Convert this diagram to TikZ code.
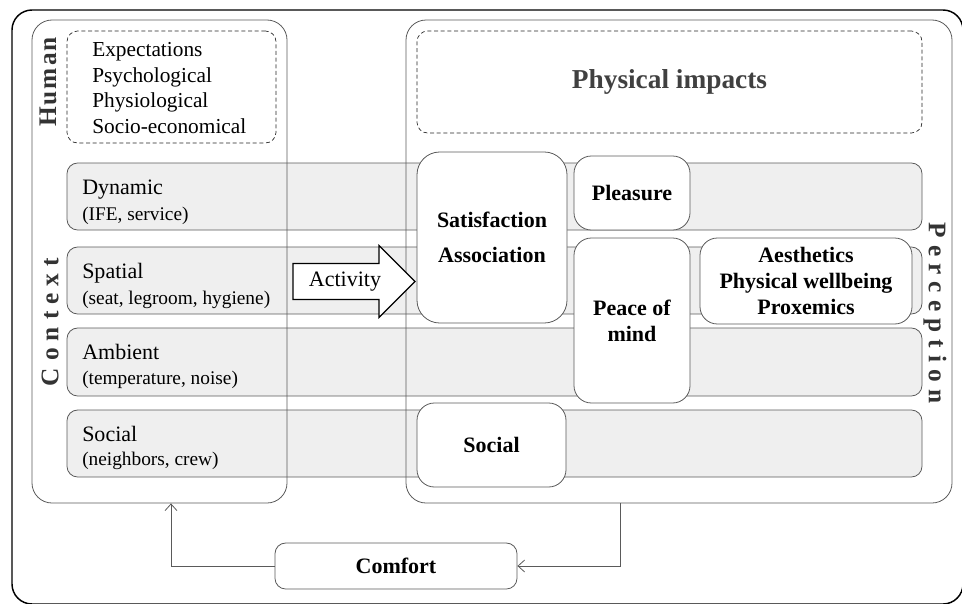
\documentclass[tikz,border=0pt]{standalone}
\usepackage{fontspec}
\setmainfont{Liberation Serif}
\usetikzlibrary{arrows.meta,positioning,fit,shapes.arrows}
\definecolor{Ink}{HTML}{333333}
\definecolor{Edge}{HTML}{5A5A5A}
\definecolor{Band}{HTML}{EFEFEF}
\definecolor{Muted}{HTML}{404040}
\newcommand{\ls}{\kern5.3pt}
\tikzset{zone/.style={draw=Edge,line width=.6pt,rounded corners=15pt,inner sep=0pt},
  dashbox/.style={draw=black!85,dash pattern=on 3pt off 2pt,line width=.5pt,rounded corners=8pt,inner sep=0pt},
  band/.style={draw=Edge,fill=Band,line width=.6pt,rounded corners=8pt,inner sep=0pt},
  card/.style={draw=Edge,fill=white,line width=.6pt,rounded corners=13pt,inner sep=0pt},
  cardtext/.style={inner sep=0pt,align=center,font=\fontsize{16.5pt}{19.5pt}\selectfont\bfseries},
  bandlab/.style={anchor=base west,inner sep=0pt,font=\fontsize{16.5pt}{20pt}\selectfont},
  bandsub/.style={anchor=base west,inner sep=0pt,font=\fontsize{14.5pt}{18pt}\selectfont},
  side/.style={font=\fontsize{19pt}{22pt}\selectfont\bfseries,text=Ink,inner sep=0pt},
  flow/.style={-{Straight Barb[length=5pt,width=9pt]},draw=Edge,line width=.6pt}}

\begin{document}
\begin{tikzpicture}[x=.75pt,y=-.75pt]
\useasboundingbox (0,0) rectangle (962,603);
\node[fit={(12,10)(963,604)},draw,line width=1.1pt,rounded corners=15pt,inner sep=0pt] (frame) {};

% context bands
\node[band,fit={(67,163)(922,230)}] (dynamic) {};
\node[band,fit={(67,247)(922,314)}] (spatial) {};
\node[band,fit={(67,328)(922,396)}] (ambient) {};
\node[band,fit={(67,410)(922,477)}] (socialrow) {};
\node[bandlab] (dynamic-a) at (82,194) {Dynamic};
\node[bandsub] (dynamic-b) at (82,220) {(IFE, service)};
\node[bandlab] (spatial-a) at (82,278) {Spatial};
\node[bandsub] (spatial-b) at (82,304) {(seat, legroom, hygiene)};
\node[bandlab] (ambient-a) at (82,359) {Ambient};
\node[bandsub] (ambient-b) at (82,384) {(temperature, noise)};
\node[bandlab] (socialrow-a) at (82,441) {Social};
\node[bandsub] (socialrow-b) at (82,465) {(neighbors, crew)};

% the two halves
\node[zone,fit={(32,20)(287,503)}] (context) {};
\node[zone,fit={(406,20)(952,503)}] (percep) {};
\node[dashbox,fit={(67,31)(276,143)}] (human) {};
\node[anchor=west,align=left,inner sep=0pt,font=\fontsize{16pt}{19.2pt}\selectfont] (needs) at (92,88)
  {Expectations\\Psychological\\Physiological\\Socio-economical};
\node[dashbox,fit={(417,31)(922,133)}] (impacts) {};
\node[text=Muted,font=\fontsize{20.5pt}{24pt}\selectfont\bfseries] (impacts-t) at (impacts) {Physical impacts};
\node[side,rotate=90] (humanlab) at (48,82) {H\kern1.5pt u\kern1.5pt m\kern1.5pt a\kern1.5pt n};
\node[side,rotate=90] (contextlab) at (50,322) {C\ls o\ls n\ls t\ls e\ls x\ls t};
\node[side,rotate=-90] (perceplab) at (935,313) {P\ls e\ls r\ls c\ls e\ls p\ls t\ls i\ls o\ls n};

\node[draw=black,fill=white,line width=.9pt,single arrow,single arrow head extend=13.5pt,minimum height=91.5pt,
  inner ysep=5.5pt,text height=11.5pt,text depth=3.5pt,font=\fontsize{16.5pt}{20pt}\selectfont] (activity) at (345,281.5) {Activity};

% perception cards
\node[card,fit={(417,152)(567,323)},rounded corners=17pt] (satis) {};
\node[card,fit={(574,156)(690,230)}] (pleasure) {};
\node[card,fit={(574,238)(690,403)}] (peace) {};
\node[card,fit={(700,238)(912,324)}] (aesth) {};
\node[card,fit={(417,403)(566,487)}] (socialcard) {};
\node[card,fit={(275,543)(517,589)},rounded corners=8pt] (comfort) {};
\node[cardtext] (satis-t) at (satis) {Satisfaction\\[7pt]Association};
\node[cardtext] (pleasure-t) at (pleasure) {Pleasure};
\node[cardtext] (peace-t) at (peace) {Peace of\\mind};
\node[cardtext] (aesth-t) at (aesth) {Aesthetics\\Physical wellbeing\\Proxemics};
\node[cardtext] (socialcard-t) at (socialcard) {Social};
\node[cardtext] (comfort-t) at (comfort) {Comfort};

\coordinate (fb) at (620,0);
\coordinate (cb) at (171,0);
\draw[flow] (percep.south -| fb) |- (comfort.east);
\draw[flow] (comfort.west) -| (context.south -| cb);
\end{tikzpicture}
\end{document}
